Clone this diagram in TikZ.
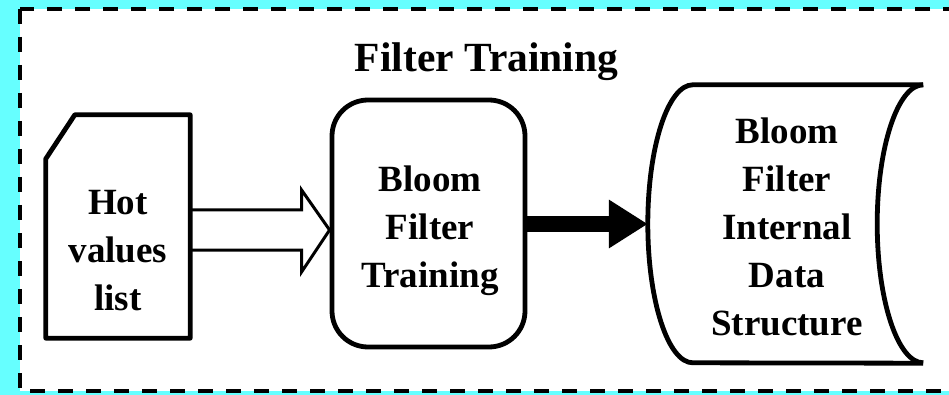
\documentclass[tikz,border=0pt]{standalone}
\usepackage{fontspec}
\setmainfont{Liberation Serif}
\usetikzlibrary{calc,arrows.meta}
\definecolor{panelcyan}{RGB}{102,255,255}
\tikzset{
  shapeline/.style={line width=4.8pt, line join=round},
  hollowarrow/.style={line width=3pt, line join=miter, fill=white},
  solidarrow/.style={line width=15pt, -{Triangle[length=39pt,width=46pt]}},
  lbl/.style={align=center, inner sep=0pt, font=\fontsize{37}{48}\selectfont\bfseries},
  ttl/.style={inner sep=0pt, font=\fontsize{41.5}{50}\selectfont\bfseries},
  frame/.style={line width=3.5pt, dash pattern=on 15pt off 13pt, fill=white}
}
\begin{document}
\begin{tikzpicture}[x=1pt,y=-1pt]
  \useasboundingbox (0,0) rectangle (949,395);
  \clip (0,0) rectangle (949,395);
  \fill[panelcyan] (0,0) rectangle (949,395);
  % dashed panel
  \draw[frame] (20,9) rectangle (975,391);
  \node[ttl, anchor=base] (title) at (486.5,72) {Filter Training};

  % shape outlines (bounds only; drawn below)
  \node[inner sep=0pt, minimum width=144pt, minimum height=223pt] (hot) at (118,226.5) {};
  \node[draw, shapeline, rounded corners=36pt, inner sep=0pt,
        minimum width=193pt, minimum height=247pt] (train) at (428.5,223.5) {};
  \node[inner sep=0pt, minimum width=230pt, minimum height=278pt] (store) at (808,224) {};
  \coordinate (storeleft) at ($(store.west)+(-45,0)$);

  % hollow arrow: list -> training
  \coordinate (ha) at ($(hot.east)+(0,3.5)$);
  \coordinate (hb) at (train.west |- ha);
  \draw[hollowarrow] ($(ha)+(0,-20)$) -- ($(hb)+(-28,-20)$) -- ($(hb)+(-28,-40)$)
        -- (hb) -- ($(hb)+(-28,42)$) -- ($(hb)+(-28,20)$) -- ($(ha)+(0,20)$);

  % document shape with clipped corner
  \draw[shapeline, fill=white] ($(hot.north west)+(0,44)$) -- ($(hot.north west)+(29,0)$)
        -- (hot.north east) -- (hot.south east) -- (hot.south west) -- cycle;

  % stored data shape
  \draw[shapeline] (store.north east) -- (store.north west)
        arc[start angle=90, end angle=270, x radius=45pt, y radius=139pt]
        -- (store.south east);
  \draw[shapeline] (store.north east)
        arc[start angle=90, end angle=270, x radius=46pt, y radius=139pt];

  % solid arrow: training -> data structure
  \draw[solidarrow] (train.east |- storeleft) -- (storeleft);

  % labels (anchored at the baseline of the last line)
  \node[lbl, anchor=base] (hottxt) at (118,310) {Hot\\values\\list};
  \node[lbl, anchor=base] (traintxt) at (430,287) {Bloom\\Filter\\Training};
  \node[lbl, anchor=base] (storetxt) at (787,335) {Bloom\\Filter\\Internal\\Data\\Structure};
\end{tikzpicture}
\end{document}
